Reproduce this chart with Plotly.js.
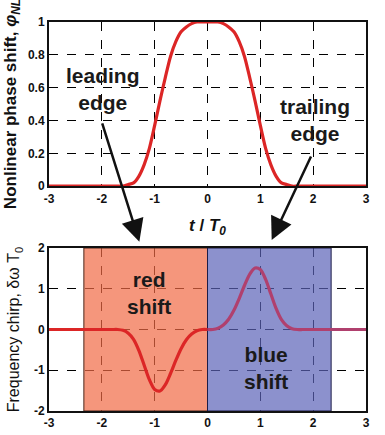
<!DOCTYPE html>
<html>
<head>
<meta charset="utf-8">
<script src="https://cdn.plot.ly/plotly-3.0.1.min.js"></script>
<style>html,body{margin:0;padding:0;background:#fff;}#chart{width:385px;height:435px;}</style>
</head>
<body>
<div id="chart"></div>
<script>
// time axis t / T0
const tValues = [-3.0,-2.9,-2.8,-2.7,-2.6,-2.5,-2.4,-2.3,-2.2,-2.1,-2.0,-1.9,-1.8,-1.7,-1.6,-1.5,-1.4,-1.3,-1.2,-1.1,-1.0,-0.9,-0.8,-0.7,-0.6,-0.5,-0.4,-0.3,-0.2,-0.1,0,
  0.1,0.2,0.3,0.4,0.5,0.6,0.7,0.8,0.9,1.0,1.1,1.2,1.3,1.4,1.5,1.6,1.7,1.8,1.9,2.0,2.1,2.2,2.3,2.4,2.5,2.6,2.7,2.8,2.9,3.0];
// nonlinear phase shift (normalized)
const phiNL = [0,0,0,0,0,0,0,0,0,0,0,0,0,0,0.00,0.01,0.02,0.06,0.13,0.23,0.37,0.52,0.66,0.79,0.88,0.94,0.97,0.99,1.00,1.00,1.00,
  1.00,1.00,0.99,0.97,0.94,0.88,0.79,0.66,0.52,0.37,0.23,0.13,0.06,0.02,0.01,0.00,0,0,0,0,0,0,0,0,0,0,0,0,0,0];
// frequency chirp
const chirp = [0,0,0,0,0,0,0,0,0,0,0,0,0,0,-0.02,-0.09,-0.24,-0.51,-0.87,-1.23,-1.47,-1.51,-1.36,-1.08,-0.76,-0.47,-0.25,-0.11,-0.03,0.00,0,
  0.00,0.03,0.11,0.25,0.47,0.76,1.08,1.36,1.51,1.47,1.23,0.87,0.51,0.24,0.09,0.02,0,0,0,0,0,0,0,0,0,0,0,0,0,0];
// shaded regions
const redShiftRange = [-2.34, 0];
const blueShiftRange = [0, 2.34];
// tick labels
const xTickVals = [-3,-2,-1,0,1,2,3];
const xTickText = ['-3','-2','-1','0','1','2','3'];
const yTopTickVals = [0,0.2,0.4,0.6,0.8,1];
const yTopTickText = ['0','0.2','0.4','0.6','0.8','1'];
const yBotTickVals = [-2,-1,0,1,2];
const yBotTickText = ['-2','-1','0','1','2'];

const FONT = 'Arial, Liberation Sans, sans-serif';
const RED = '#DC2626';
const PURPLE = '#B0406E';
const b = s => '<b>' + s + '</b>';

const tNeg = [], cNeg = [], tPos = [], cPos = [];
tValues.forEach((t, i) => {
  if (t <= 0) { tNeg.push(t); cNeg.push(chirp[i]); }
  if (t >= 0) { tPos.push(t); cPos.push(chirp[i]); }
});

const traces = [
  {x: tValues, y: phiNL, xaxis: 'x', yaxis: 'y', mode: 'lines',
   line: {color: RED, width: 3.2, shape: 'spline', smoothing: 0.8}, hoverinfo: 'skip'},
  {x: tNeg, y: cNeg, xaxis: 'x2', yaxis: 'y2', mode: 'lines',
   line: {color: RED, width: 3.2, shape: 'spline', smoothing: 0.8}, hoverinfo: 'skip'},
  {x: tPos, y: cPos, xaxis: 'x2', yaxis: 'y2', mode: 'lines',
   line: {color: PURPLE, width: 3.2, shape: 'spline', smoothing: 0.8}, hoverinfo: 'skip'}
];

const tickFont = {family: FONT, size: 12, color: '#111', weight: 'bold'};
const axBase = {
  showline: true, mirror: true, linecolor: '#111', linewidth: 2,
  showgrid: true, gridcolor: '#000', griddash: 'dash', gridwidth: 1,
  zeroline: false, ticks: '', tickfont: tickFont
};

const layout = {
  width: 385, height: 435,
  margin: {l: 49, r: 19, t: 22, b: 24},
  paper_bgcolor: '#fff', plot_bgcolor: '#fff',
  showlegend: false,
  xaxis: Object.assign({}, axBase, {
    domain: [0, 1], anchor: 'y', range: [-3, 3],
    tickvals: xTickVals, ticktext: xTickText.map(b),
    title: {text: b('<i>t</i> / <i>T</i><sub><i>0</i></sub>'), standoff: 15,
            font: {family: FONT, size: 17, color: '#111'}}
  }),
  yaxis: Object.assign({}, axBase, {
    domain: [0.578, 1], anchor: 'x', range: [0, 1],
    tickvals: yTopTickVals, ticktext: yTopTickText.map(b),
    title: {text: b('Nonlinear phase shift, <i>φ<sub>NL</sub></i>'), standoff: 7,
            font: {family: FONT, size: 17, color: '#111'}}
  }),
  xaxis2: Object.assign({}, axBase, {
    domain: [0, 1], anchor: 'y2', range: [-3, 3],
    tickvals: xTickVals, ticktext: xTickText.map(b)
  }),
  yaxis2: Object.assign({}, axBase, {
    domain: [0, 0.419], anchor: 'x2', range: [-2, 2],
    tickvals: yBotTickVals, ticktext: yBotTickText.map(b),
    title: {text: 'Frequency chirp, δω T<sub>0</sub>', standoff: 10,
            font: {family: FONT, size: 16, color: '#111'}}
  }),
  shapes: [
    {type: 'rect', xref: 'x2', yref: 'y2', x0: redShiftRange[0], x1: redShiftRange[1], y0: -2, y1: 2,
     fillcolor: 'rgba(241,105,69,0.7)', line: {color: '#4a2418', width: 1}, layer: 'between'},
    {type: 'rect', xref: 'x2', yref: 'y2', x0: blueShiftRange[0], x1: blueShiftRange[1], y0: -2, y1: 2,
     fillcolor: 'rgba(91,98,184,0.7)', line: {color: '#1c1c48', width: 1}, layer: 'between'}
  ],
  annotations: [
    {xref: 'paper', yref: 'paper', x: 0.170, y: 0.829, text: b('leading<br>edge'), showarrow: false,
     font: {family: FONT, size: 21, color: '#1a1a1a', weight: 'bold'}, xanchor: 'center', yanchor: 'middle'},
    {xref: 'paper', yref: 'paper', x: 0.839, y: 0.748, text: b('trailing<br>edge'), showarrow: false,
     font: {family: FONT, size: 21, color: '#1a1a1a', weight: 'bold'}, xanchor: 'center', yanchor: 'middle'},
    {xref: 'paper', yref: 'paper', x: 0.316, y: 0.3046, text: b('red<br>shift'), showarrow: false,
     font: {family: FONT, size: 21, color: '#1a1a1a', weight: 'bold'}, xanchor: 'center', yanchor: 'middle'},
    {xref: 'paper', yref: 'paper', x: 0.6836, y: 0.1105, text: b('blue<br>shift'), showarrow: false,
     font: {family: FONT, size: 21, color: '#1a1a1a', weight: 'bold'}, xanchor: 'center', yanchor: 'middle'},
    {xref: 'paper', yref: 'paper', x: 0.285, y: 0.435, text: '', showarrow: true,
     ax: -37.6, ay: -120, arrowhead: 2, arrowsize: 1.8, arrowwidth: 2.5, arrowcolor: '#111'},
    {xref: 'paper', yref: 'paper', x: 0.7025, y: 0.4396, text: '', showarrow: true,
     ax: 40, ay: -85, arrowhead: 2, arrowsize: 1.8, arrowwidth: 2.5, arrowcolor: '#111'}
  ]
};

Plotly.newPlot('chart', traces, layout, {displayModeBar: false, staticPlot: true});
</script>
</body>
</html>
